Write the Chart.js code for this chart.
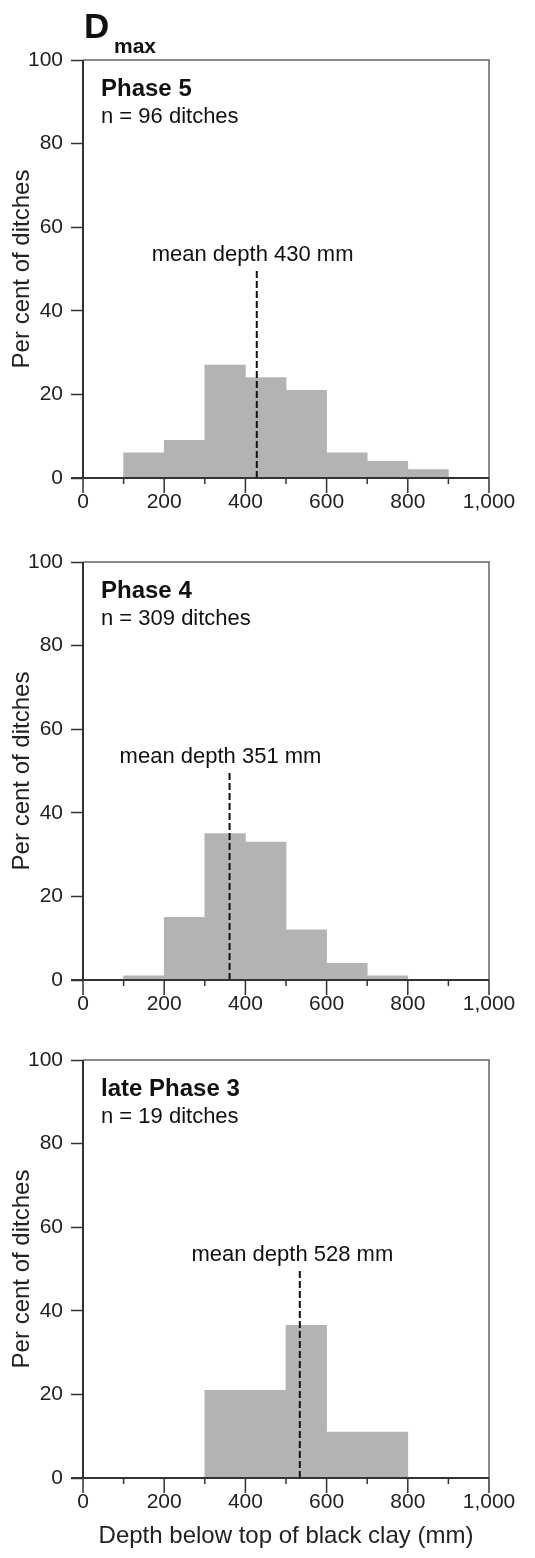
<!DOCTYPE html>
<html><head><meta charset="utf-8">
<script src="https://cdn.jsdelivr.net/npm/chart.js@4/dist/chart.umd.min.js"></script>
<style>
html,body{margin:0;padding:0;background:#fff;width:535px;height:1558px;overflow:hidden}
.w{position:absolute;left:0;width:535px}
</style></head><body>
<div class="w" style="top:0;height:520px"><canvas id="c0"></canvas></div>
<div class="w" style="top:520px;height:502px"><canvas id="c1"></canvas></div>
<div class="w" style="top:1022px;height:536px"><canvas id="c2"></canvas></div>
<script>
// ---- data ----
const binCenters = [50, 150, 250, 350, 450, 550, 650, 750, 850, 950]; // 100 mm bins, 0-1000 mm
const phase5Pct = [0, 6, 9, 27, 24, 21, 6, 4, 2, 0];
const phase4Pct = [0, 1, 15, 35, 33, 12, 4, 1, 0, 0];
const latePhase3Pct = [0, 0, 0, 21, 21, 36.5, 11, 11, 0, 0];
const panelTitles = ['Phase 5', 'Phase 4', 'late Phase 3'];
const panelCounts = ['n = 96 ditches', 'n = 309 ditches', 'n = 19 ditches'];
const meanDepths = [430, 351, 528];      // values in the labels
const meanLineAt = [428, 361, 534];      // where the dashed lines are drawn in the figure
const meanLineTop = 50;
const xTickValues = [0, 200, 400, 600, 800, 1000];
const xTickLabels = ['0', '200', '400', '600', '800', '1,000'];
const yTickLabels = ['0', '20', '40', '60', '80', '100'];
const yTitle = 'Per cent of ditches';
const xTitle = 'Depth below top of black clay (mm)';
const figureLetter = 'D';
const figureSub = 'max';

const FONT = "'Liberation Sans', Arial, Helvetica, sans-serif";
const series = [phase5Pct, phase4Pct, latePhase3Pct];
const padTops = [60, 42, 38];

function decor(i) {
  return {
    id: 'decor' + i,
    afterDatasetsDraw(chart) {
      const ctx = chart.ctx, ca = chart.chartArea;
      const xs = chart.scales.x, ys = chart.scales.y;
      ctx.save();
      // frame (top + right)
      ctx.strokeStyle = '#666'; ctx.lineWidth = 1.5;
      ctx.beginPath();
      ctx.moveTo(ca.left, ca.top); ctx.lineTo(ca.right, ca.top); ctx.lineTo(ca.right, ca.bottom);
      ctx.stroke();
      // axes
      ctx.strokeStyle = '#333'; ctx.lineWidth = 2;
      ctx.beginPath();
      ctx.moveTo(ca.left, ca.top); ctx.lineTo(ca.left, ca.bottom);
      ctx.moveTo(ca.left - 12, ca.bottom); ctx.lineTo(ca.right, ca.bottom);
      ctx.stroke();
      // x ticks: long at labelled values, short between
      ctx.lineWidth = 1.5;
      ctx.beginPath();
      for (let v = 0; v <= 1000; v += 100) {
        const px = xs.getPixelForValue(v);
        const len = (v % 200 === 0) ? 15 : 6;
        ctx.moveTo(px, ca.bottom); ctx.lineTo(px, ca.bottom + len);
      }
      ctx.stroke();
      // texts
      ctx.fillStyle = '#111';
      ctx.textAlign = 'left'; ctx.textBaseline = 'alphabetic';
      ctx.font = `bold 24px ${FONT}`;
      ctx.fillText(panelTitles[i], ca.left + 18, ca.top + 36);
      ctx.font = `22px ${FONT}`;
      ctx.fillText(panelCounts[i], ca.left + 18, ca.top + 63);
      ctx.textAlign = 'center';
      ctx.fillText('mean depth ' + meanDepths[i] + ' mm', xs.getPixelForValue(meanDepths[i]) - 5, ys.getPixelForValue(52));
      if (i === 0) {
        ctx.textAlign = 'left';
        ctx.font = `bold 35px ${FONT}`;
        ctx.fillText(figureLetter, 84, 38);
        ctx.font = `bold 21px ${FONT}`;
        ctx.fillText(figureSub, 114, 53);
      }
      ctx.restore();
    }
  };
}

for (let i = 0; i < 3; i++) {
  const last = i === 2;
  new Chart(document.getElementById('c' + i), {
    type: 'bar',
    data: {
      datasets: [
        {
          type: 'line',
          data: [{x: meanLineAt[i], y: 0}, {x: meanLineAt[i], y: meanLineTop}],
          borderColor: '#111', borderWidth: 2, borderDash: [7, 3],
          pointRadius: 0, fill: false, order: 0
        },
        {
          type: 'bar',
          data: binCenters.map((c, k) => ({x: c, y: series[i][k]})),
          backgroundColor: '#b3b3b3', borderWidth: 0,
          barPercentage: 1, categoryPercentage: 1, order: 1
        }
      ]
    },
    options: {
      responsive: true, maintainAspectRatio: false, animation: false, devicePixelRatio: 1,
      layout: {padding: {top: padTops[i], left: 0, right: 46, bottom: 0}},
      plugins: {legend: {display: false}, tooltip: {enabled: false}},
      scales: {
        x: {
          type: 'linear', min: 0, max: 1000, offset: false,
          grid: {display: false, drawTicks: false},
          border: {display: false},
          ticks: {
            stepSize: 200, autoSkip: false, maxRotation: 0, padding: 12,
            color: '#222', font: {family: FONT, size: 21},
            callback: (v) => { const k = xTickValues.indexOf(v); return k >= 0 ? xTickLabels[k] : ''; }
          },
          title: {display: last, text: xTitle, color: '#222', font: {family: FONT, size: 24}, padding: {top: 0, bottom: 7}},
          afterFit: (s) => { s.height = last ? 80 : 42; }
        },
        y: {
          min: 0, max: 100,
          grid: {display: true, drawOnChartArea: false, drawTicks: true, tickLength: 12, tickColor: '#333', tickWidth: 1.5},
          border: {display: false},
          ticks: {
            stepSize: 20, padding: 8, color: '#222', font: {family: FONT, size: 21},
            callback: (v) => yTickLabels[v / 20]
          },
          title: {display: true, text: yTitle, color: '#222', font: {family: FONT, size: 24}, padding: {top: 8, bottom: 0}},
          afterFit: (s) => { s.width = 83; }
        }
      }
    },
    plugins: [decor(i)]
  });
}
</script>
</body></html>
